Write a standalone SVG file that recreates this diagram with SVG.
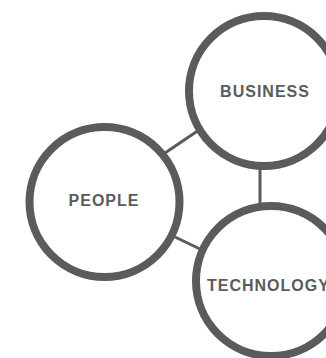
<svg xmlns="http://www.w3.org/2000/svg" width="326" height="358" viewBox="0 0 326 358">
<style>
.ring{fill:#ffffff;stroke:#5a5c5b;stroke-width:8}
.lbl{font-family:"Liberation Sans",Arial,sans-serif;font-weight:bold;font-size:16px;letter-spacing:1px;fill:#5a5c5b}
.conn{stroke:#5a5c5b;stroke-width:3;fill:none}
</style>
<rect width="326" height="358" fill="#ffffff"/>
<g id="connectors">
<line class="conn" x1="165" y1="153" x2="199" y2="130"/>
<line class="conn" x1="260" y1="168" x2="260" y2="204"/>
<line class="conn" x1="175" y1="237" x2="200" y2="249"/>
</g>
<g id="people">
<circle class="ring" cx="104.5" cy="202" r="75"/>
<text class="lbl" x="104" y="206" text-anchor="middle">PEOPLE</text>
</g>
<g id="business">
<circle class="ring" cx="264" cy="91" r="75"/>
<text class="lbl" x="265" y="97" text-anchor="middle">BUSINESS</text>
</g>
<g id="technology">
<circle class="ring" cx="271" cy="281" r="75"/>
<text class="lbl" x="207" y="291">TECHNOLOGY</text>
</g>
</svg>
